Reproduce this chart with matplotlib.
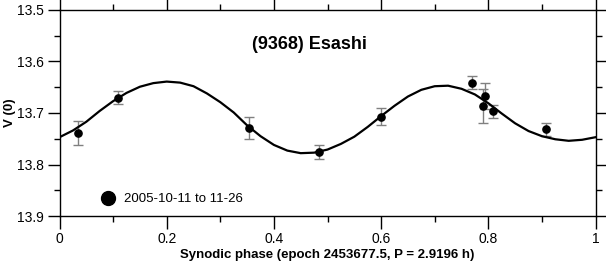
import matplotlib
matplotlib.use("Agg")
import matplotlib.pyplot as plt
from matplotlib.lines import Line2D
from matplotlib.ticker import MultipleLocator

plt.rcParams['font.family'] = ['Liberation Sans', 'DejaVu Sans']

# observed points: synodic phase, V(0) magnitude, error
fase = [0.034, 0.110, 0.354, 0.484, 0.599, 0.770, 0.790, 0.794, 0.808, 0.908]
mag = [13.739, 13.670, 13.729, 13.776, 13.707, 13.641, 13.686, 13.667, 13.697, 13.732]
erro = [0.024, 0.012, 0.022, 0.013, 0.017, 0.0125, 0.033, 0.026, 0.0135, 0.0135]

# fitted curve
fase_curva = [0.000, 0.025, 0.050, 0.075, 0.100, 0.125, 0.150, 0.175, 0.200, 0.225,
              0.250, 0.275, 0.300, 0.325, 0.350, 0.375, 0.400, 0.425, 0.450, 0.475,
              0.500, 0.525, 0.550, 0.575, 0.600, 0.625, 0.650, 0.675, 0.700, 0.725,
              0.750, 0.775, 0.800, 0.825, 0.850, 0.875, 0.900, 0.925, 0.950, 0.975, 1.000]
mag_curva = [13.747, 13.734, 13.717, 13.696, 13.677, 13.661, 13.649, 13.642, 13.639, 13.641,
             13.648, 13.662, 13.679, 13.699, 13.724, 13.745, 13.762, 13.773, 13.778, 13.777,
             13.771, 13.760, 13.746, 13.727, 13.706, 13.686, 13.668, 13.655, 13.648, 13.647,
             13.653, 13.664, 13.681, 13.701, 13.720, 13.735, 13.745, 13.751, 13.754, 13.752, 13.747]

titulo = "(9368) Esashi"
legenda = "2005-10-11 to 11-26"
rotulo_x = "Synodic phase (epoch 2453677.5, P = 2.9196 h)"
rotulo_y = "V (0)"

fig = plt.figure(figsize=(6.06, 2.61), dpi=100)
ax = fig.add_axes([0.0982, 0.1724, 0.8845, 0.7893])

ax.errorbar(fase, mag, yerr=erro, fmt='none', ecolor='#808080',
            elinewidth=1.0, capsize=3.3, capthick=1.0, zorder=2)
ax.plot(fase_curva, mag_curva, color='black', linewidth=1.6,
        solid_joinstyle='round', zorder=3)
ax.plot(fase, mag, 'o', color='black', markersize=5.2, zorder=4)

ax.set_xlim(0, 1)
ax.set_ylim(13.9, 13.5)

ax.xaxis.set_major_locator(MultipleLocator(0.2))
ax.xaxis.set_minor_locator(MultipleLocator(0.1))
ax.yaxis.set_major_locator(MultipleLocator(0.1))
ax.yaxis.set_minor_locator(MultipleLocator(0.05))
ax.xaxis.set_major_formatter(plt.FuncFormatter(lambda v, p: f"{v:g}"))

ax.tick_params(which='both', direction='out', top=True, right=True,
               width=1.0, labelsize=10, colors='black')
ax.tick_params(which='major', length=9)
ax.tick_params(which='minor', length=4.5)
ax.tick_params(axis='x', which='major', pad=2.5)
ax.tick_params(axis='y', which='major', pad=2)
for lado in ax.spines.values():
    lado.set_linewidth(1.0)

ax.set_xlabel(rotulo_x, fontsize=9.5, fontweight='bold')
ax.xaxis.set_label_coords(0.4985, -0.162)
ax.set_ylabel(rotulo_y, fontsize=9.5, fontweight='bold')
ax.yaxis.set_label_coords(-0.082, 0.5)

ax.text(0.467, 0.833, titulo, transform=ax.transAxes, ha='center', va='center',
        fontsize=13, fontweight='bold')

alca = Line2D([], [], marker='o', linestyle='', color='black', markersize=10)
ax.legend(handles=[alca], labels=[legenda], loc='center left',
          bbox_to_anchor=(0.078, 0.0825), frameon=False, fontsize=9.5,
          handlelength=1.0, handletextpad=0.7, borderpad=0, borderaxespad=0)

fig.savefig("out.png", dpi=100)
